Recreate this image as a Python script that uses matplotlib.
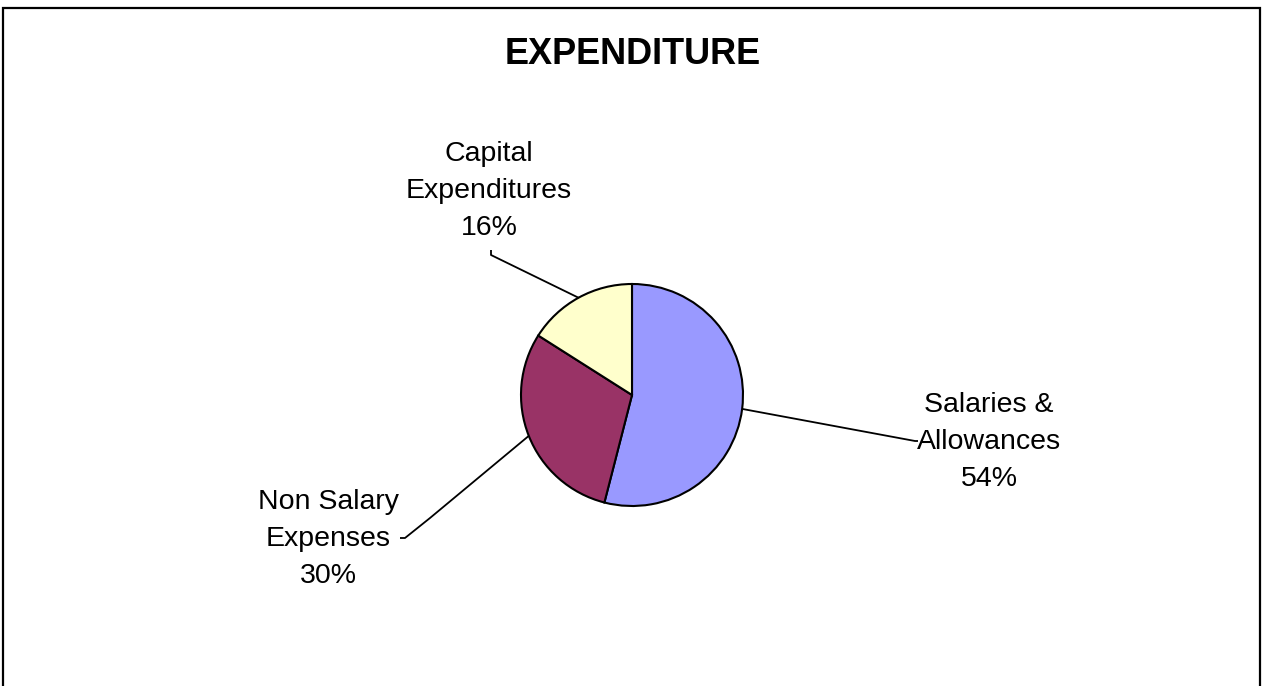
import numpy as np
import matplotlib
matplotlib.use("Agg")
import matplotlib.pyplot as plt
from matplotlib.patches import Rectangle

categories = ["Salaries &\nAllowances", "Non Salary\nExpenses", "Capital\nExpenditures"]
values = [54, 30, 16]
colors = ["#9999FF", "#993366", "#FFFFCC"]
title = "EXPENDITURE"

W, H = 1263, 686
plt.rcParams['font.family'] = ['Liberation Sans', 'DejaVu Sans']
fig = plt.figure(figsize=(W / 100, H / 100), dpi=100)
ax = fig.add_axes([0, 0, 1, 1])

def Y(y):
    return H - y

cx, cy, r = 632, Y(395), 111
wedges, _ = ax.pie(values, colors=colors, startangle=90, counterclock=False,
                   center=(cx, cy), radius=r, frame=True,
                   wedgeprops=dict(edgecolor='black', linewidth=1.5))
ax.set_xlim(0, W)
ax.set_ylim(0, H)
ax.set_aspect('equal')
ax.axis('off')

# label layout: (text center x, text center y), leader path after edge point
label_pos = [(989, 442), (328, 539), (489, 191)]
leader_pts = [
    [(915, 441), (918, 441)],
    [(430, 518), (405, 538), (400, 538)],
    [(491, 255), (491, 250)],
]
pcts = [f"{v}%" for v in values]

for w, lab, pct, (tx, ty), pts in zip(wedges, categories, pcts, label_pos, leader_pts):
    ang = np.deg2rad((w.theta1 + w.theta2) / 2)
    ex, ey = cx + r * np.cos(ang), cy + r * np.sin(ang)
    xs = [ex] + [p[0] for p in pts]
    ys = [ey] + [Y(p[1]) for p in pts]
    ax.plot(xs, ys, color='black', linewidth=1.3, solid_capstyle='butt')
    ax.text(tx, Y(ty), lab + "\n" + pct, ha='center', va='center',
            fontsize=20.5, linespacing=1.53, color='black')

ax.text(633, Y(54), title, ha='center', va='center', fontsize=26,
        fontweight='bold', color='black')

fig.patches.append(Rectangle((3 / W, -0.05), 1257 / W, 1.05 - 8 / H,
                             transform=fig.transFigure, fill=False,
                             edgecolor='black', linewidth=1.6))

fig.savefig("out.png", dpi=100, facecolor='white')
